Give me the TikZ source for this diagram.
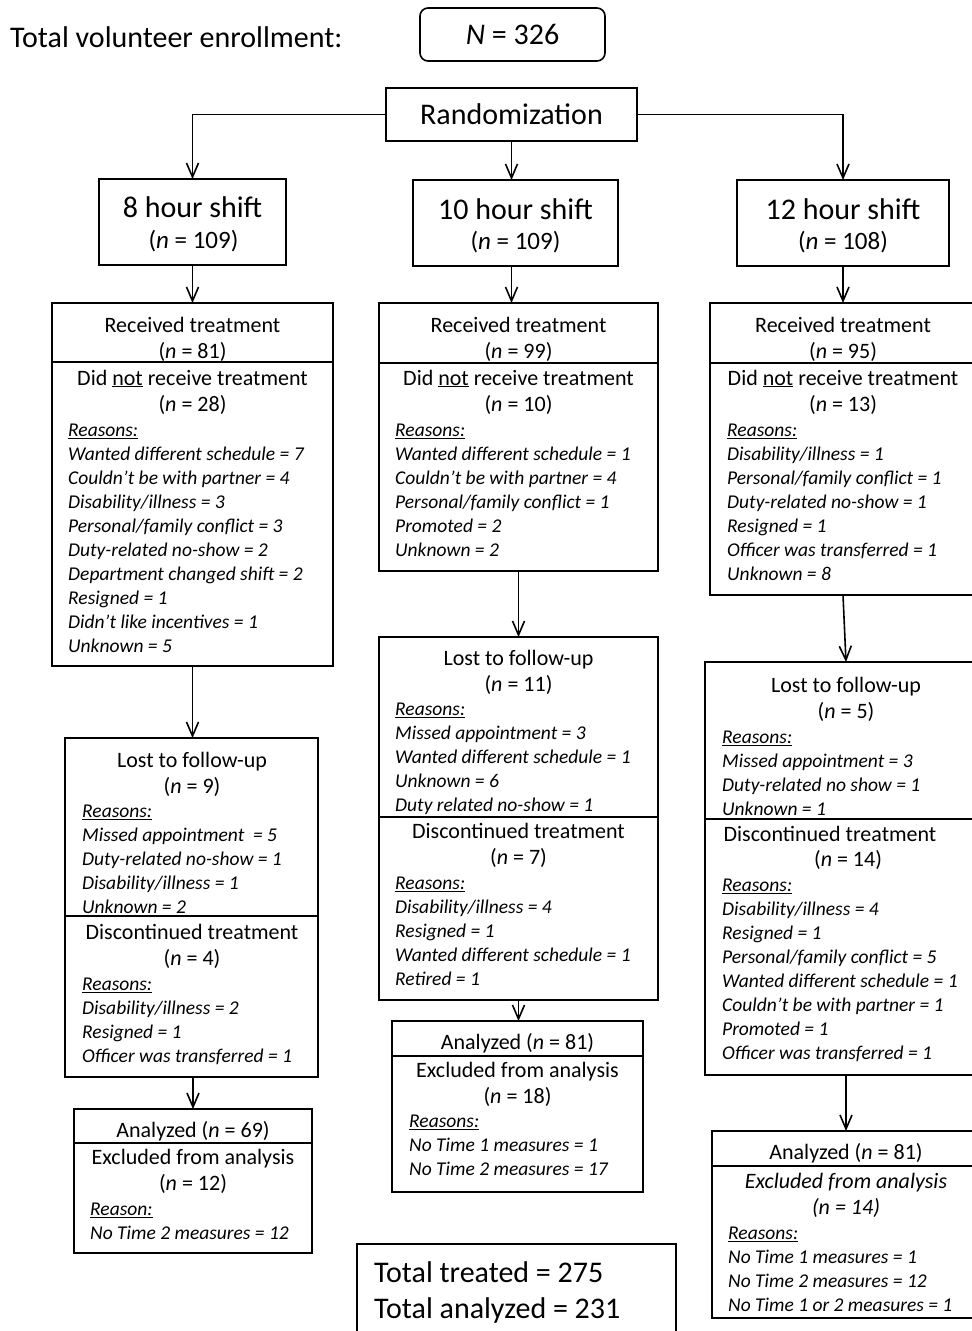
\documentclass[tikz,border=0pt]{standalone}
\usepackage{fontspec}
\setmainfont{Carlito}
\usetikzlibrary{arrows.meta}

\begin{document}
\begin{tikzpicture}[x=1pt,y=-1pt,
 box/.style={draw,line width=1.6pt,anchor=north west,inner sep=0pt,outer sep=0pt},
 rule/.style={line width=1.6pt},
 arr/.style={line width=1.6pt,-{Straight Barb[length=14pt,width=12pt]}},
 bigtext/.style={inner sep=0pt,font=\fontsize{30}{36}\selectfont},
 subtext/.style={inner sep=0pt,font=\fontsize{25}{30}\selectfont},
 head/.style={inner sep=0pt,align=center,font=\fontsize{22}{26}\selectfont},
 why/.style={inner sep=0pt,align=left,anchor=north west,font=\fontsize{19.5}{24}\selectfont\itshape}]
 \path[use as bounding box,fill=white] (0,0) rectangle (972,1331);

 \node[bigtext,anchor=west] (title) at (10,37) {Total volunteer enrollment:};
 \node[box,bigtext,rounded corners=8pt,minimum width=185pt,minimum height=53pt] (enroll) at (420,8) {\textit{N} = 326};
 \node[box,bigtext,minimum width=251pt,minimum height=53pt] (rand) at (386,88) {Randomization};

 \node[box,minimum width=187pt,minimum height=86pt] (shift8) at (99,179) {};
 \node[box,minimum width=205pt,minimum height=86pt] (shift10) at (413,180) {};
 \node[box,minimum width=212pt,minimum height=86pt] (shift12) at (737,180) {};
 \node[bigtext] (name8) at (192.5,207) {8 hour shift};
 \node[subtext] (size8) at (193.5,241) {(\textit{n} = 109)};
 \node[bigtext] (name10) at (515.5,209) {10 hour shift};
 \node[subtext] (size10) at (515.5,242) {(\textit{n} = 109)};
 \node[bigtext] (name12) at (843,209) {12 hour shift};
 \node[subtext] (size12) at (843,242) {(\textit{n} = 108)};

 \node[box,minimum width=281pt,minimum height=363pt] (treat8) at (52,303) {};
 \node[box,minimum width=279pt,minimum height=268pt] (treat10) at (379,303) {};
 \node[box,minimum width=266pt,minimum height=292pt] (treat12) at (710,303) {};
 \draw[rule] (treat8.north west) ++(0,59) -- ++(281,0);
 \draw[rule] (treat10.north west) ++(0,60) -- ++(279,0);
 \draw[rule] (treat12.north west) ++(0,60) -- ++(266,0);

 \node[head] (rec8) at (192.5,339) {Received treatment\\(\textit{n} = 81)};
 \node[head] (not8) at (192.5,392) {Did \underline{not} receive treatment\\(\textit{n} = 28)};
 \node[why] (why8) at (68,424) {\underline{Reasons:}\\Wanted different schedule = 7\\Couldn’t be with partner = 4\\Disability/illness = 3\\Personal/family conflict = 3\\Duty-related no-show = 2\\Department changed shift = 2\\Resigned = 1\\Didn’t like incentives = 1\\Unknown = 5};

 \node[head] (rec10) at (518.5,339) {Received treatment\\(\textit{n} = 99)};
 \node[head] (not10) at (518.5,392) {Did \underline{not} receive treatment\\(\textit{n} = 10)};
 \node[why] (why10) at (395,424) {\underline{Reasons:}\\Wanted different schedule = 1\\Couldn’t be with partner = 4\\Personal/family conflict = 1\\Promoted = 2\\Unknown = 2};

 \node[head] (rec12) at (843,339) {Received treatment\\(\textit{n} = 95)};
 \node[head] (not12) at (843,392) {Did \underline{not} receive treatment\\(\textit{n} = 13)};
 \node[why] (why12) at (727,424) {\underline{Reasons:}\\Disability/illness = 1\\Personal/family conflict = 1\\Duty-related no-show = 1\\Resigned = 1\\Officer was transferred = 1\\Unknown = 8};

 \node[box,minimum width=253pt,minimum height=339pt] (lost8) at (65,738) {};
 \node[box,minimum width=279pt,minimum height=363pt] (lost10) at (379,637) {};
 \node[box,minimum width=282pt,minimum height=413pt] (lost12) at (705,662) {};
 \draw[rule] (lost8.north west) ++(0,178) -- ++(253,0);
 \draw[rule] (lost10.north west) ++(0,180) -- ++(279,0);
 \draw[rule] (lost12.north west) ++(0,157) -- ++(282,0);

 \node[head] (ltf8) at (192,774) {Lost to follow-up\\(\textit{n} = 9)};
 \node[why] (whyltf8) at (82,805) {\underline{Reasons:}\\Missed appointment ~= 5\\Duty-related no-show = 1\\Disability/illness = 1\\Unknown = 2};
 \node[head] (disc8) at (192,946) {Discontinued treatment\\(\textit{n} = 4)};
 \node[why] (whydisc8) at (82,978) {\underline{Reasons:}\\Disability/illness = 2\\Resigned = 1\\Officer was transferred = 1};

 \node[head] (ltf10) at (518.5,672) {Lost to follow-up\\(\textit{n} = 11)};
 \node[why] (whyltf10) at (395,703) {\underline{Reasons:}\\Missed appointment = 3\\Wanted different schedule = 1\\Unknown = 6\\Duty related no-show = 1};
 \node[head] (disc10) at (518.5,845) {Discontinued treatment\\(\textit{n} = 7)};
 \node[why] (whydisc10) at (395,877) {\underline{Reasons:}\\Disability/illness = 4\\Resigned = 1\\Wanted different schedule = 1\\Retired = 1};

 \node[head] (ltf12) at (846,699) {Lost to follow-up\\(\textit{n} = 5)};
 \node[why] (whyltf12) at (722,731) {\underline{Reasons:}\\Missed appointment = 3\\Duty-related no show = 1\\Unknown = 1};
 \node[head] (disc12) at (830,834) {Discontinued treatment};
 \node[head] (discn12) at (848,860) {(\textit{n} = 14)};
 \node[why] (whydisc12) at (722,879) {\underline{Reasons:}\\Disability/illness = 4\\Resigned = 1\\Personal/family conflict = 5\\Wanted different schedule = 1\\Couldn’t be with partner = 1\\Promoted = 1\\Officer was transferred = 1};

 \node[box,minimum width=238pt,minimum height=144pt] (ana8) at (74,1109) {};
 \node[box,minimum width=251pt,minimum height=171pt] (ana10) at (392,1021) {};
 \node[box,minimum width=268pt,minimum height=187pt] (ana12) at (712,1131) {};
 \draw[rule] (ana8.north west) ++(0,34) -- ++(238,0);
 \draw[rule] (ana10.north west) ++(0,35) -- ++(251,0);
 \draw[rule] (ana12.north west) ++(0,35) -- ++(268,0);

 \node[head] (kept8) at (193,1131) {Analyzed (\textit{n} = 69)};
 \node[head] (excl8) at (193,1171) {Excluded from analysis\\(\textit{n} = 12)};
 \node[why] (whyexcl8) at (90,1203) {\underline{Reason:}\\No Time 2 measures = 12};
 \node[head] (kept10) at (517.5,1043) {Analyzed (\textit{n} = 81)};
 \node[head] (excl10) at (517.5,1084) {Excluded from analysis\\(\textit{n} = 18)};
 \node[why] (whyexcl10) at (409,1115) {\underline{Reasons:}\\No Time 1 measures = 1\\No Time 2 measures = 17};
 \node[head] (kept12) at (846,1153) {Analyzed (\textit{n} = 81)};
 \node[head,font=\fontsize{22}{26}\selectfont\itshape] (excl12) at (846,1195) {Excluded from analysis\\(\textit{n} = 14)};
 \node[why] (whyexcl12) at (728,1227) {\underline{Reasons:}\\No Time 1 measures = 1\\No Time 2 measures = 12\\No Time 1 or 2 measures = 1};

 \node[box,line width=2.6pt,minimum width=319pt,minimum height=110pt] (total) at (357,1244) {};
 \node[bigtext,align=left,anchor=west] (sums) at (374,1292) {Total treated = 275\\Total analyzed = 231};

 \draw[arr] (rand.west) -| (shift8.north);
 \draw[arr] (rand.east) -| (shift12.north);
 \draw[arr] (rand.south) -- (rand.south |- shift10.north);
 \draw[arr] (shift8.south) -- (treat8.north);
 \draw[arr] (rand.south |- shift10.south) -- (rand.south |- treat10.north);
 \draw[arr] (shift12.south) -- (treat12.north);
 \draw[arr] (treat8.south) -- (treat8.south |- lost8.north);
 \draw[arr] (treat10.south) -- (lost10.north);
 \draw[arr] (treat12.south) -- (lost12.north);
 \draw[arr] (ana8.north |- lost8.south) -- (ana8.north);
 \draw[arr] (lost10.south) -- (lost10.south |- ana10.north);
 \draw[arr] (lost12.south) -- (ana12.north);
\end{tikzpicture}
\end{document}
